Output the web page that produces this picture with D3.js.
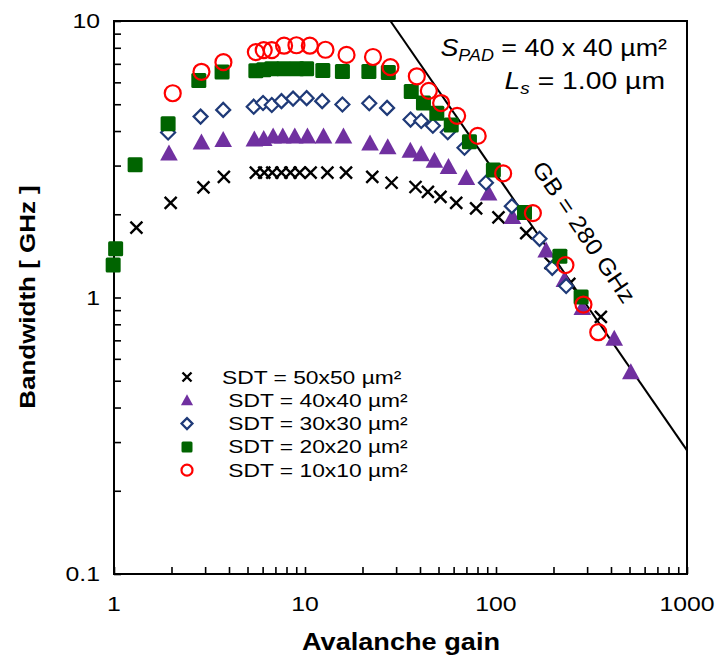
<!DOCTYPE html>
<html><head><meta charset="utf-8">
<script src="https://cdn.jsdelivr.net/npm/d3@7"></script>
<style>
html,body{margin:0;padding:0;background:#fff;}
text{font-family:"Liberation Sans",Arial,sans-serif;}
</style></head>
<body><svg id="c" width="716" height="659"></svg>
<script>
// ---- data ----
const sdt50_gain = [1.31,1.98,2.94,3.76,5.53,6.12,6.74,7.53,8.39,9.38,10.7,13.1,16.4,22.5,28.4,37.9,44.0,51.2,61.9,78.7,103,144,193,242,354];
const sdt50_bw   = [1.79,2.20,2.50,2.73,2.83,2.83,2.83,2.83,2.83,2.83,2.83,2.83,2.83,2.73,2.60,2.51,2.41,2.31,2.20,2.10,1.95,1.71,1.33,1.12,0.851];

const sdt40_gain = [1.94,2.87,3.73,5.43,6.08,6.81,7.65,8.84,10.3,12.5,15.9,21.9,27.1,35.6,40.6,47.6,56.4,70.0,91.5,122,183,228,283,416,508];
const sdt40_bw   = [3.32,3.64,3.72,3.73,3.75,3.83,3.83,3.83,3.83,3.83,3.83,3.61,3.50,3.40,3.30,3.13,2.97,2.71,2.38,1.96,1.48,1.16,0.918,0.710,0.538];

const sdt30_gain = [1.92,2.84,3.73,5.39,6.03,6.70,7.53,8.66,10.2,12.3,15.7,21.7,26.9,35.7,40.6,46.7,55.9,68.4,88.6,121,169,197,233];
const sdt30_bw   = [3.95,4.51,4.77,4.90,5.05,4.97,5.13,5.24,5.26,5.13,4.99,5.04,4.85,4.40,4.35,4.18,3.96,3.48,2.60,2.14,1.63,1.28,1.10];

const sdt20_gain = [0.99,1.02,1.29,1.92,2.78,3.68,5.53,6.08,6.70,7.74,9.05,10.2,12.4,15.7,21.6,27.3,36.0,41.7,49.0,58.3,72.6,96.9,141,216,279];
const sdt20_bw   = [1.31,1.50,3.02,4.25,6.09,6.54,6.61,6.66,6.72,6.72,6.72,6.72,6.62,6.57,6.57,6.51,5.56,5.05,4.64,4.21,3.66,2.89,2.03,1.41,1.005];

const sdt10_gain = [2.03,2.87,3.74,5.53,6.08,6.70,7.77,9.02,10.6,12.8,16.5,22.7,28.0,38.5,44.5,51.6,62.6,80.2,109,156,231,287,343];
const sdt10_bw   = [5.48,6.55,7.10,7.72,7.85,7.85,8.14,8.17,8.14,7.87,7.54,7.41,6.81,6.31,5.59,5.05,4.54,3.84,2.81,2.02,1.31,0.943,0.749];

const seriesNames = ["SDT = 50x50 µm²"," SDT = 40x40 µm²"," SDT = 30x30 µm²"," SDT = 20x20 µm²"," SDT = 10x10 µm²"];
const xTicks = [1,10,100,1000];
const yTicks = [0.1,1,10];
const xTickLabels = ["1","10","100","1000"];
const yTickLabels = ["0.1","1","10"];
const gainBandwidth = 280; // GHz
const xTitle = "Avalanche gain";
const yTitle = "Bandwidth [ GHz ]";

// ---- chart ----
const svg = d3.select("#c");
const L=114, R=687, T=21, B=574;
const x = d3.scaleLog().domain([1,1000]).range([L,R]);
const y = d3.scaleLog().domain([0.1,10]).range([B,T]);

// horizontally stretch text (reference glyphs are wider than Arial)
function stretch(sel, f){
  sel.each(function(){
    const len = this.getComputedTextLength();
    d3.select(this).attr("textLength", len*f).attr("lengthAdjust","spacingAndGlyphs");
  });
  return sel;
}

const xMinor = [];
for (let d=1; d<1000; d*=10) for (let k=1;k<10;k++) xMinor.push(d*k);
xMinor.push(1000);
const yMinor = [];
for (let d=0.1; d<9.99; d*=10) for (let k=1;k<10;k++) yMinor.push(+(d*k).toPrecision(3));
yMinor.push(10);

const g = svg.append("g");
g.append("rect").attr("x",L).attr("y",T).attr("width",R-L).attr("height",B-T)
 .attr("fill","none").attr("stroke","#000").attr("stroke-width",2);

const xAxis = d3.axisBottom(x).tickValues(xMinor).tickSizeInner(-7).tickSizeOuter(0).tickFormat("");
g.append("g").attr("transform",`translate(0,${B})`).call(xAxis)
 .call(s=>{s.select(".domain").remove(); s.selectAll("line").attr("stroke","#000").attr("stroke-width",1.6);});
const yAxis = d3.axisLeft(y).tickValues(yMinor).tickSizeInner(-7).tickSizeOuter(0).tickFormat("");
g.append("g").attr("transform",`translate(${L},0)`).call(yAxis)
 .call(s=>{s.select(".domain").remove(); s.selectAll("line").attr("stroke","#000").attr("stroke-width",1.6);});

// tick labels
stretch(g.selectAll(".xl").data(xTicks).enter().append("text")
 .attr("x",d=>x(d)).attr("y",B+37).attr("text-anchor","middle")
 .attr("font-size",21).text((d,i)=>xTickLabels[i]), 1.18);
stretch(g.selectAll(".yl").data(yTicks).enter().append("text")
 .attr("x",L-14).attr("y",d=>y(d)+7).attr("text-anchor","end")
 .attr("font-size",21).text((d,i)=>yTickLabels[i]), 1.18);

// titles
stretch(g.append("text").attr("x",401).attr("y",650).attr("text-anchor","middle")
 .attr("font-size",23).attr("font-weight","bold").text(xTitle), 1.18);
stretch(g.append("text").attr("transform",`translate(35,297) rotate(-90)`).attr("text-anchor","middle")
 .attr("font-size",22).attr("font-weight","bold").text(yTitle), 1.18);

// GB line
const gStart = gainBandwidth/10, gEnd = 1000;
svg.append("clipPath").attr("id","pc").append("rect").attr("x",L).attr("y",T).attr("width",R-L).attr("height",B-T);
g.append("line").attr("x1",x(gStart)).attr("y1",y(gainBandwidth/gStart))
 .attr("x2",x(gEnd)).attr("y2",y(gainBandwidth/gEnd))
 .attr("stroke","#000").attr("stroke-width",2).attr("clip-path","url(#pc)");

const purple="#7030A0", navy="#1F3A78", green="#006400", red="#FF0000";
function drawMarker(sel, type, size){
  const s=size;
  if(type==="x"){
    sel.append("path").attr("d",`M${-s/2},${-s/2}L${s/2},${s/2}M${-s/2},${s/2}L${s/2},${-s/2}`)
      .attr("stroke","#000").attr("stroke-width",2.4).attr("fill","none");
  } else if(type==="tri"){
    sel.append("path").attr("d",`M0,${-s*0.55}L${s*0.55},${s*0.45}L${-s*0.55},${s*0.45}Z`).attr("fill",purple);
  } else if(type==="dia"){
    const h=s*0.5;
    sel.append("path").attr("d",`M0,${-h}L${h},0L0,${h}L${-h},0Z`).attr("fill","#fff").attr("stroke",navy).attr("stroke-width",2.2);
  } else if(type==="sq"){
    sel.append("rect").attr("x",-s/2).attr("y",-s/2).attr("width",s).attr("height",s).attr("rx",1.5).attr("fill",green);
  } else if(type==="ci"){
    sel.append("circle").attr("r",s/2).attr("fill","none").attr("stroke",red).attr("stroke-width",2.2);
  }
}
const series = [
  {gain:sdt50_gain,bw:sdt50_bw,type:"x",size:12},
  {gain:sdt40_gain,bw:sdt40_bw,type:"tri",size:16},
  {gain:sdt30_gain,bw:sdt30_bw,type:"dia",size:14},
  {gain:sdt20_gain,bw:sdt20_bw,type:"sq",size:15},
  {gain:sdt10_gain,bw:sdt10_bw,type:"ci",size:16}
];
series.forEach(sr=>{
  const pts = sr.gain.map((v,i)=>[v,sr.bw[i]]);
  g.append("g").selectAll("g").data(pts).enter().append("g")
   .attr("transform",d=>`translate(${x(d[0])},${y(d[1])})`)
   .each(function(){drawMarker(d3.select(this),sr.type,sr.size);});
});

// legend
const lg = g.append("g");
series.forEach((sr,i)=>{
  const yy = 377 + i*23.3;
  const m = lg.append("g").attr("transform",`translate(187,${yy})`);
  drawMarker(m, sr.type, sr.type==="x"?9:11);
  stretch(lg.append("text").attr("x",222).attr("y",yy+6.5).attr("font-size",19)
    .attr("xml:space","preserve").style("white-space","pre").text(seriesNames[i]), 1.2);
});

// annotations
const a1 = g.append("text").attr("x",667).attr("y",56).attr("text-anchor","end").attr("font-size",24);
a1.append("tspan").attr("font-style","italic").text("S");
a1.append("tspan").attr("font-style","italic").attr("font-size",16).attr("dy",5).text("PAD");
a1.append("tspan").attr("dy",-5).text(" = 40 x 40 µm²");
stretch(a1, 1.12);
const a2 = g.append("text").attr("x",665).attr("y",89).attr("text-anchor","end").attr("font-size",24);
a2.append("tspan").attr("font-style","italic").text("L");
a2.append("tspan").attr("font-style","italic").attr("font-size",16).attr("dy",5).text("s");
a2.append("tspan").attr("dy",-5).text(" = 1.00 µm");
stretch(a2, 1.18);

stretch(g.append("text").attr("transform","translate(584,232) rotate(56)").attr("text-anchor","middle")
 .attr("dy",8).attr("font-size",23).text("GB = 280 GHz"), 1.1);
</script></body></html>
